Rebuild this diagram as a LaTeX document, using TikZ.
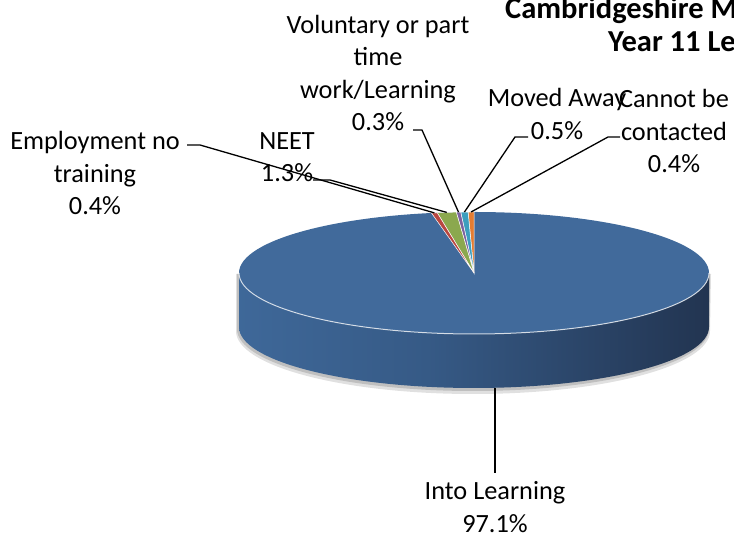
\documentclass[tikz,border=0pt]{standalone}
\usepackage{fontspec}
\setmainfont{Carlito}
\definecolor{topblue}{RGB}{65,106,155}
\definecolor{sideA}{RGB}{58,98,146}
\definecolor{sideB}{RGB}{68,113,165}
\definecolor{sideC}{RGB}{54,90,134}
\definecolor{sideD}{RGB}{36,56,86}
\definecolor{sideE}{RGB}{27,41,62}
\definecolor{sred}{RGB}{184,70,64}
\definecolor{sgreen}{RGB}{139,168,78}
\definecolor{spurple}{RGB}{124,98,160}
\definecolor{steal}{RGB}{60,158,190}
\definecolor{sorange}{RGB}{228,124,50}
\pgfdeclarehorizontalshading{sideshade}{100bp}{color(0bp)=(sideA); color(12bp)=(sideB); color(45bp)=(sideC); color(72bp)=(sideD); color(86bp)=(sideE); color(100bp)=(sideE)}
\begin{document}
\begin{tikzpicture}[x=1bp,y=1bp,
  lbl/.style={font=\fontsize{26.3bp}{32.5bp}\selectfont, align=center, inner sep=0pt},
  ttl/.style={font=\fontsize{30.5bp}{35bp}\selectfont\bfseries, inner sep=0pt, anchor=base west},
  leader/.style={draw=black, line width=1.3bp},
  slice/.style={draw=white, line width=0.5bp}]
\useasboundingbox (0,0) rectangle (734,535);
% shadow
\fill[black!12] (236,261) -- (236,204) arc[start angle=180,end angle=360,x radius=237,y radius=63] -- (711,261) -- cycle;
\fill[black!25] (237,261) -- (237,206) arc[start angle=180,end angle=360,x radius=236,y radius=62] -- (710,261) -- cycle;
% side
\path[shading=sideshade] (239,262) -- (239,208) arc[start angle=180, end angle=360, x radius=235, y radius=61] -- (709,262) arc[start angle=0, end angle=-180, x radius=235, y radius=61] -- cycle;
% top
\fill[topblue] (474,262) ellipse [x radius=235, y radius=61];
\draw[white, opacity=0.75, line width=1bp] (239,262) arc[start angle=180, end angle=360, x radius=235, y radius=61];
% small slices
\foreach \a/\b/\c in {90/91.44/sorange, 91.44/93.24/steal, 93.24/94.32/spurple, 94.32/99/sgreen, 99/100.44/sred}
  \filldraw[slice, fill=\c] (474,262) -- ({474+235*cos(\a)},{262+61*sin(\a)}) arc[start angle=\a, end angle=\b, x radius=235, y radius=61] -- cycle;
% anchor points on slices
\coordinate (pEmp) at ({474+235*cos(99.72)},{262+61*sin(99.72)});
\coordinate (pNeet) at ({474+235*cos(96.66)},{262+61*sin(96.66)});
\coordinate (pVol) at ({474+235*cos(93.78)},{262+61*sin(93.78)});
\coordinate (pMov) at ({474+235*cos(92.34)},{262+61*sin(92.34)});
\coordinate (pCan) at ({474+235*cos(90.72)},{262+61*sin(90.72)});
\coordinate (pInto) at (495,147);
% title
\node[ttl] (title1) at (505,516) {Cambridgeshire M};
\node[ttl] (title2) at (608,483) {Year 11 Le};
% labels
\node[lbl] (into) at (495,28) {Into Learning\\97.1\%};
\node[lbl] (vol) at (378,462) {Voluntary or part\\time\\work/Learning\\0.3\%};
\node[lbl] (mov) at (557,421) {Moved Away\\0.5\%};
\node[lbl] (can) at (674,404) {Cannot be\\contacted\\0.4\%};
\node[lbl] (emp) at (95,362) {Employment no\\training\\0.4\%};
\node[lbl] (neet) at (287,378) {NEET\\1.3\%};
% leader stubs
\coordinate (kEmp) at (187,390);
\coordinate (kNeet) at (313,355);
\coordinate (kVol) at (413,405);
\coordinate (kMov) at (528,398);
\coordinate (kCan) at (620,398);
\coordinate (kInto) at (495,62);
\draw[leader] (kEmp) -- ++(13,0) -- (pEmp);
\draw[leader] (kNeet) -- ++(17,0) -- (pNeet);
\draw[leader] (kVol) -- ++(9,0) -- (pVol);
\draw[leader] (kMov) -- ++(-13,0) -- (pMov);
\draw[leader] (kCan) -- ++(-12,0) -- (pCan);
\draw[leader] (pInto) -- (kInto);
\end{tikzpicture}
\end{document}
